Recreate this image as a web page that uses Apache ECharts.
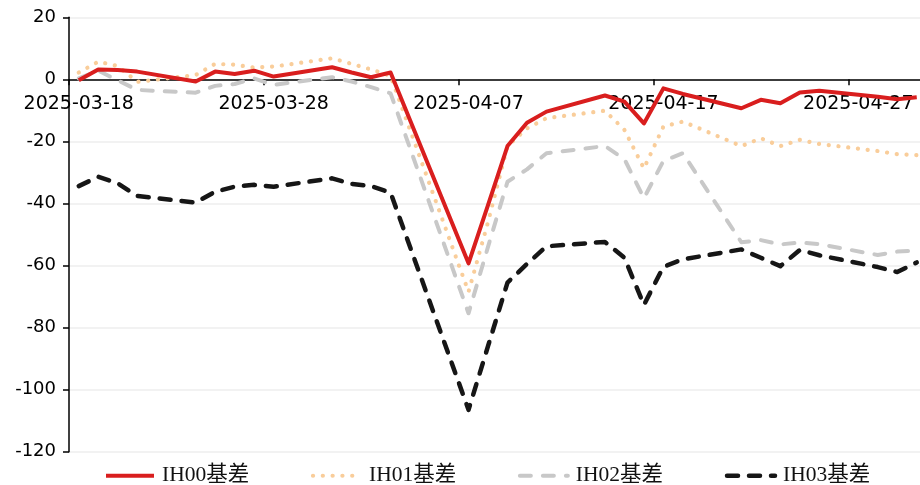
<!DOCTYPE html>
<html><head><meta charset="utf-8">
<script src="https://cdn.jsdelivr.net/npm/echarts@6/dist/echarts.min.js"></script>
<style>html,body{margin:0;padding:0;background:#fff}#c{width:920px;height:485px}</style>
</head><body><div id="c"></div>
<script>
const startDate = '2025-03-18';
const dates = ['2025-03-18','2025-03-19','2025-03-20','2025-03-21','2025-03-24','2025-03-25','2025-03-26','2025-03-27','2025-03-28','2025-03-31','2025-04-01','2025-04-02','2025-04-03','2025-04-07','2025-04-08','2025-04-09','2025-04-10','2025-04-11','2025-04-14','2025-04-15','2025-04-16','2025-04-17','2025-04-18','2025-04-21','2025-04-22','2025-04-23','2025-04-24','2025-04-25','2025-04-28','2025-04-29','2025-04-30'];
const ih00 = [-0.3, 3.2, 3.0, 2.5, -0.7, 2.5, 1.7, 2.8, 0.9, 3.9, 2.2, 0.7, 2.2, -59.3, -40.5, -21.5, -14.0, -10.4, -5.2, -7.2, -14.2, -2.9, -4.7, -9.3, -6.6, -7.7, -4.2, -3.7, -5.6, -6.4, -5.8];
const ih01 = [2.2, 5.7, 4.3, -0.8, 1.4, 5.0, 4.7, 3.8, 4.1, 6.8, 5.0, 3.2, 1.1, -68.5, -46.0, -21.5, -15.8, -12.5, -10.1, -16.3, -28.7, -15.2, -13.6, -21.5, -19.0, -21.5, -19.5, -20.8, -23.1, -24.1, -24.4];
const ih02 = [0.3, 2.8, -0.3, -3.4, -4.3, -2.1, -1.5, 0.3, -1.8, 0.7, -0.7, -2.5, -4.5, -75.4, -54.0, -33.0, -29.0, -23.8, -21.5, -25.7, -38.3, -26.3, -23.8, -52.5, -51.8, -53.2, -52.6, -53.1, -56.6, -55.5, -55.2];
const ih03 = [-34.4, -31.4, -33.5, -37.6, -39.7, -36.2, -34.6, -34.0, -34.6, -31.9, -33.7, -34.4, -36.5, -106.5, -86.0, -65.5, -59.5, -53.8, -52.4, -57.5, -72.7, -60.4, -58.0, -54.8, -57.5, -60.2, -55.0, -56.7, -60.5, -62.1, -59.0];
const names = ['IH00基差','IH01基差','IH02基差','IH03基差'];
const yTicks = [20, 0, -20, -40, -60, -80, -100, -120];

const DAY = 86400000;
const t0 = Date.parse(startDate + 'T00:00:00Z');
function dayOf(s){ return (Date.parse(s + 'T00:00:00Z') - t0) / DAY; }
function pts(vals){ return dates.map((d,i)=>[dayOf(d)+0.5, vals[i]]); }
function fmt(v){
  if (Math.abs(v % 10) > 1e-6 || v > 43) return '';
  const d = new Date(t0 + v*DAY);
  const p = n => String(n).padStart(2,'0');
  return d.getUTCFullYear() + '-' + p(d.getUTCMonth()+1) + '-' + p(d.getUTCDate());
}

const gridTop = 17.3, gridBottomPx = 451.7;
const yMin = yTicks[yTicks.length-1], yMax = yTicks[0];
const zeroPx = gridTop + (yMax - 0) / (yMax - yMin) * (gridBottomPx - gridTop);

const chart = echarts.init(document.getElementById('c'), null, {renderer:'canvas'});
chart.setOption({
  animation:false,
  backgroundColor:'#fff',
  grid:{left:69, right:-6.5, top:gridTop, bottom:485-gridBottomPx, containLabel:false, outerBoundsMode:'none'},
  legend:{
    data:names, left:99, top:460, itemWidth:48, itemHeight:20, itemGap:61.7,
    itemStyle:{opacity:0},
    lineStyle:{width:'inherit'},
    textStyle:{fontFamily:'"Liberation Serif","Noto Sans CJK SC",serif', fontSize:21.5, color:'#111', padding:[0,0,0,3]}
  },
  xAxis:{
    type:'value', min:0, max:44, interval:10,
    offset: -(gridBottomPx - zeroPx),
    axisLine:{onZero:false, lineStyle:{color:'#000', width:1.5}},
    axisTick:{show:true, length:6, lineStyle:{color:'#000', width:1.5}},
    splitLine:{show:false},
    axisLabel:{formatter:fmt, fontFamily:'"DejaVu Sans",sans-serif', fontSize:19, color:'#000', margin:15, padding:[0,0,0,19.5], showMaxLabel:false}
  },
  yAxis:{
    type:'value', min:yMin, max:yMax, interval:20,
    axisLine:{show:true, lineStyle:{color:'#000', width:1.5}},
    axisTick:{show:true, length:6, lineStyle:{color:'#000', width:1.5}},
    splitLine:{show:true, lineStyle:{color:'#eeeeee', width:1.5}},
    axisLabel:{fontFamily:'"DejaVu Sans",sans-serif', fontSize:18, color:'#000', margin:13}
  },
  series:[
    {name:names[3], type:'line', data:pts(ih03), symbol:'none', z:2,
     lineStyle:{color:'#161616', width:4.5, type:[11,11], cap:'round', join:'round'}, itemStyle:{color:'#161616'}},
    {name:names[2], type:'line', data:pts(ih02), symbol:'none', z:3,
     lineStyle:{color:'#c8c8c8', width:4, type:[11,12], cap:'round', join:'round'}, itemStyle:{color:'#c8c8c8'}},
    {name:names[1], type:'line', data:pts(ih01), symbol:'none', z:4,
     lineStyle:{color:'#f9cd9a', width:4.2, type:[0.1,9.7], cap:'round', join:'round'}, itemStyle:{color:'#f9cd9a'}},
    {name:names[0], type:'line', data:pts(ih00), symbol:'none', z:5,
     lineStyle:{color:'#d91e1e', width:4, type:'solid', join:'round'}, itemStyle:{color:'#d91e1e'}}
  ]
});
</script></body></html>
